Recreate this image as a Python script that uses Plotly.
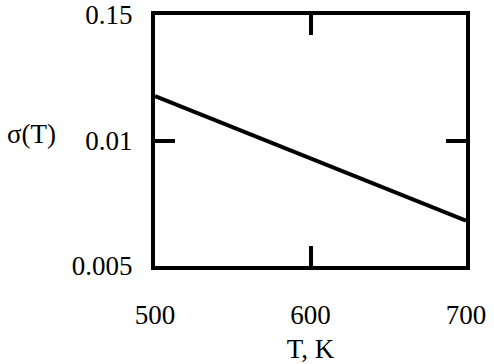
import plotly.graph_objects as go

# Data
T_vals = [500, 600, 700]
sigma_vals = [0.01177, 0.00929, 0.00681]

x_tickvals = [500, 600, 700]
x_ticktext = ["500", "600", "700"]
y_tickvals = [0.005, 0.01, 0.015]
y_ticktext = ["0.005", "0.01", "0.15"]

FONT = "Liberation Serif, Times New Roman, serif"

L, R, TOP, B = 155, 28, 15, 98
W, H = 494, 364

fig = go.Figure()
fig.add_trace(go.Scatter(x=T_vals, y=sigma_vals, mode="lines",
                         line=dict(color="black", width=4),
                         showlegend=False, hoverinfo="skip"))

fig.update_layout(
    width=W, height=H,
    margin=dict(l=L, r=R, t=TOP, b=B, autoexpand=False),
    paper_bgcolor="white", plot_bgcolor="white",
    font=dict(family=FONT, size=27, color="black"),
    xaxis=dict(range=[500, 700], tickvals=x_tickvals, ticktext=x_ticktext,
               ticks="inside", ticklen=20, tickwidth=4, tickcolor="black",
               showline=True, linecolor="black", linewidth=4, mirror="ticks",
               showgrid=False, zeroline=False, ticklabelstandoff=22,
               automargin=False, ticklabeloverflow="allow",
               title=dict(text="T, K", standoff=16, font=dict(size=27))),
    yaxis=dict(range=[0.005, 0.015], tickvals=y_tickvals, ticktext=y_ticktext,
               ticks="inside", ticklen=20, tickwidth=4, tickcolor="black",
               showline=True, linecolor="black", linewidth=4, mirror="ticks",
               showgrid=False, zeroline=False, ticklabelstandoff=13,
               automargin=False, ticklabeloverflow="allow"),
)
pw = W - L - R
ph = H - TOP - B
fig.add_annotation(text="σ(T)", x=(31 - L) / pw, y=(H - B - 134) / ph,
                   xref="paper", yref="paper", showarrow=False,
                   xanchor="center", yanchor="middle")

fig.write_html("out.html", config={"displayModeBar": False},
               post_script="document.body.style.margin='0px';")
